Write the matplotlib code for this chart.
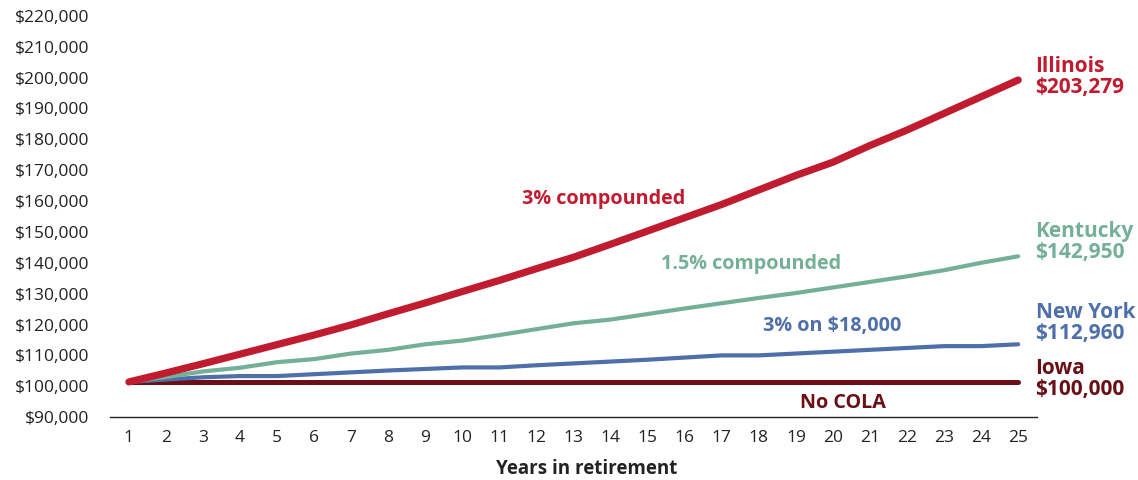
import matplotlib
matplotlib.use('Agg')
import matplotlib.pyplot as plt
from matplotlib.ticker import FuncFormatter

plt.rcParams['font.family'] = ['Open Sans', 'DejaVu Sans']

# --- dados (em milhares de dolares) ----------------------------------------
YEARS = list(range(1, 26))
ILLINOIS = [101.4, 104.3, 107.3, 110.4, 113.5, 116.6, 119.9, 123.5, 127.0,
            130.7, 134.3, 138.1, 141.8, 146.0, 150.3, 154.6, 158.9, 163.6,
            168.3, 172.6, 178.0, 183.0, 188.4, 193.8, 199.2]
KENTUCKY = [101.4, 103.0, 104.8, 106.0, 107.8, 108.8, 110.6, 111.8, 113.6,
            114.8, 116.6, 118.5, 120.4, 121.6, 123.4, 125.2, 126.9, 128.6,
            130.2, 132.0, 133.8, 135.6, 137.6, 140.0, 142.1]
NEW_YORK = [101.4, 102.2, 102.9, 103.3, 103.3, 103.9, 104.5, 105.1, 105.6,
            106.1, 106.1, 106.8, 107.4, 108.0, 108.6, 109.3, 110.0, 110.0,
            110.6, 111.2, 111.8, 112.4, 113.0, 113.0, 113.6]
IOWA = [101.4] * 25

Y_TICKS = list(range(90, 221, 10))

C_IL = '#C01B2F'
C_KY = '#74AF97'
C_NY = '#4F6FAB'
C_IA = '#6A0F15'
C_TXT = '#222222'

fig = plt.figure(figsize=(11.38, 4.8), dpi=100)
ax = fig.add_axes([0.097, 0.131, 0.814, 0.836])

ax.plot(YEARS, IOWA, color=C_IA, lw=3.6, solid_capstyle='round', zorder=2)
ax.plot(YEARS, NEW_YORK, color=C_NY, lw=3.0, solid_capstyle='round', zorder=3)
ax.plot(YEARS, KENTUCKY, color=C_KY, lw=3.0, solid_capstyle='round', zorder=4)
ax.plot(YEARS, ILLINOIS, color=C_IL, lw=5.2, solid_capstyle='round', zorder=5)

ax.set_xlim(0.5, 25.5)
ax.set_ylim(90, 220)
ax.set_xticks(YEARS)
ax.set_yticks(Y_TICKS)
ax.yaxis.set_major_formatter(FuncFormatter(lambda v, _: f'${v*1000:,.0f}'))
ax.tick_params(axis='both', length=0, labelsize=12.5, colors=C_TXT)
ax.tick_params(axis='y', pad=15)
ax.tick_params(axis='x', pad=9)
for s in ('top', 'right', 'left'):
    ax.spines[s].set_visible(False)
ax.spines['bottom'].set_color('#222222')
ax.spines['bottom'].set_linewidth(1.0)

fig.text(587 / 1138, 1 - 469 / 480, 'Years in retirement', ha='center',
         va='center', fontsize=13.5, fontweight='bold', color=C_TXT)

# rotulos das curvas
kw = dict(ha='center', va='center', fontsize=14.2, fontweight='bold')
ax.text(13.81, 160.7, '3% compounded', color=C_IL, **kw)
ax.text(17.78, 139.7, '1.5% compounded', color=C_KY, **kw)
ax.text(19.99, 119.6, '3% on $18,000', color=C_NY, **kw)
ax.text(20.26, 94.6, 'No COLA', color=C_IA, **kw)

# rotulos finais a direita
kw = dict(ha='left', va='center', fontsize=15, fontweight='bold',
          linespacing=1.0, clip_on=False)
ax.text(25.47, 200.1, 'Illinois\n$203,279', color=C_IL, **kw)
ax.text(25.47, 146.7, 'Kentucky\n$142,950', color=C_KY, **kw)
ax.text(25.47, 120.6, 'New York\n$112,960', color=C_NY, **kw)
ax.text(25.47, 102.4, 'Iowa\n$100,000', color=C_IA, **kw)

fig.savefig('out.png', dpi=100)
